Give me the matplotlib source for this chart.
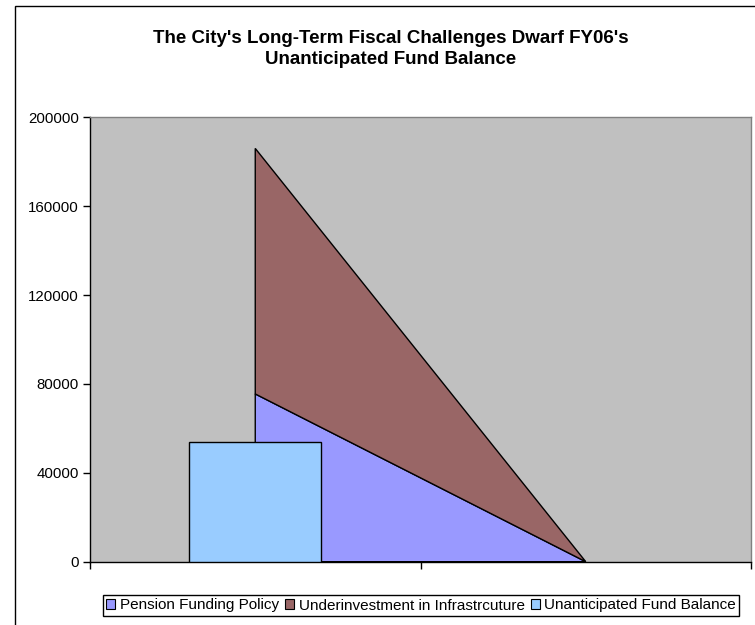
import matplotlib
matplotlib.use("Agg")
import matplotlib.pyplot as plt
from matplotlib.patches import Patch, Rectangle

plt.rcParams['font.family'] = ['Liberation Sans', 'DejaVu Sans']

# category positions (two unlabeled categories)
categories = ["", ""]
x_area = [0.5, 1.5]
pension = [75500, 0]
underinvestment = [110500, 0]
fund_balance = [54000]
y_ticks = [0, 40000, 80000, 120000, 160000, 200000]

title = "The City's Long-Term Fiscal Challenges Dwarf FY06's\nUnanticipated Fund Balance"
labels = ["Pension Funding Policy", "Underinvestment in Infrastrcuture", "Unanticipated Fund Balance"]
colors = ["#9999FF", "#996666", "#99CCFF"]

fig = plt.figure(figsize=(7.55, 6.25), dpi=100)
ax = fig.add_axes([90 / 755, 1 - 561.7 / 625, 661 / 755, (561.7 - 117.3) / 625])
ax.set_facecolor("#C0C0C0")

# outer chart border (runs off the right/bottom edge like the original)
fig.patches.append(Rectangle((15 / 755, -0.2), 1.2, 0.2 + 1 - 6 / 625, transform=fig.transFigure,
                             fill=False, edgecolor="black", linewidth=1.0, clip_on=False))

total = [p + u for p, u in zip(pension, underinvestment)]
ax.fill([x_area[0], x_area[0], x_area[1]], [0, pension[0], pension[1]],
        facecolor=colors[0], edgecolor="black", linewidth=1.0, zorder=2)
ax.fill([x_area[0], x_area[0], x_area[1]], [pension[0], total[0], total[1]],
        facecolor=colors[1], edgecolor="black", linewidth=1.0, zorder=2)
ax.bar([0.5], fund_balance, width=0.40, color=colors[2], edgecolor="black", linewidth=1.0, zorder=3)

ax.set_xlim(0, 2)
ax.set_ylim(0, 200000)
ax.set_yticks(y_ticks)
ax.set_yticklabels([str(v) for v in y_ticks], fontsize=10.8)
ax.set_xticks([0, 1, 2])
ax.set_xticklabels(["", "", ""])
ax.tick_params(axis="both", direction="out", length=5, width=1, color="black", pad=3)
for side in ["top", "right"]:
    ax.spines[side].set_color("#808080")
    ax.spines[side].set_linewidth(1)
for side in ["left", "bottom"]:
    ax.spines[side].set_color("black")
    ax.spines[side].set_linewidth(1)

fig.text(391 / 755, 1 - 49 / 625, title, ha="center", va="center", fontsize=13.5,
         fontweight="bold", linespacing=1.25)

handles = [Patch(facecolor=c, edgecolor="black", linewidth=0.8) for c in colors]
fig.legend(handles, labels, loc="center", bbox_to_anchor=(421 / 755, 1 - 605.5 / 625), ncol=3,
           fontsize=11, frameon=True, fancybox=False, edgecolor="black", framealpha=1,
           handlelength=0.6, handleheight=0.6, handletextpad=0.3, columnspacing=0.4,
           borderpad=0.2, borderaxespad=0)

fig.savefig("out.png", dpi=100)
